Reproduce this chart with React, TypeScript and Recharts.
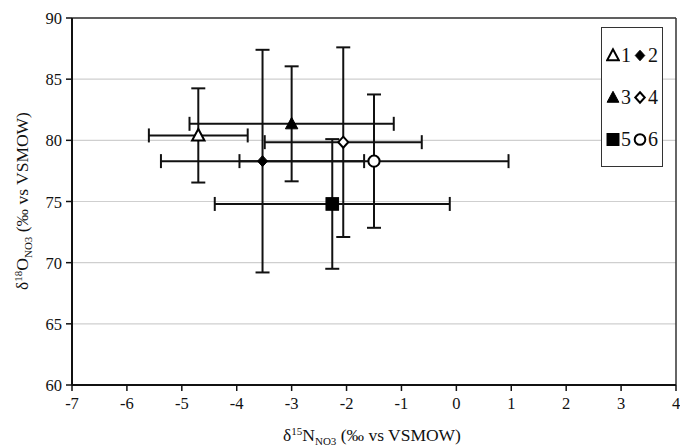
import React from 'react'
import {
  ScatterChart,
  Scatter,
  XAxis,
  YAxis,
  CartesianGrid,
  ErrorBar,
  ReferenceLine,
} from 'recharts'

// Sites (legend labels) and their mean isotope values with 1 SD error bars
const seriesNames = ['1', '2', '3', '4', '5', '6']
const xValues = [-4.7, -3.53, -3.0, -2.06, -2.26, -1.5]
const yValues = [80.4, 78.3, 81.35, 79.85, 74.8, 78.3]
const xErrors = [0.9, 1.85, 1.86, 1.43, 2.14, 2.45]
const yErrors = [3.85, 9.1, 4.7, 7.75, 5.3, 5.45]

const xTicks = [-7, -6, -5, -4, -3, -2, -1, 0, 1, 2, 3, 4]
const yTicks = [60, 65, 70, 75, 80, 85, 90]

// marker style per series
const MARKERS = [
  { kind: 'triangle', filled: false },
  { kind: 'diamond', filled: true },
  { kind: 'triangle', filled: true },
  { kind: 'diamond', filled: false },
  { kind: 'square', filled: true },
  { kind: 'circle', filled: false },
]

const FONT = 'Liberation Serif'

function markerPath(kind: string, cx: number, cy: number, s: number) {
  if (kind === 'triangle') {
    return <polygon points={`${cx},${cy - 6.5 * s} ${cx - 6.2 * s},${cy + 5 * s} ${cx + 6.2 * s},${cy + 5 * s}`} />
  }
  if (kind === 'diamond') {
    return <polygon points={`${cx},${cy - 5.5 * s} ${cx + 5 * s},${cy} ${cx},${cy + 5.5 * s} ${cx - 5 * s},${cy}`} />
  }
  if (kind === 'square') {
    return <rect x={cx - 6.3 * s} y={cy - 6.3 * s} width={12.6 * s} height={12.6 * s} />
  }
  return <circle cx={cx} cy={cy} r={5.6 * s} />
}

function Marker({ cx, cy, kind, filled, scale = 1 }: any) {
  if (cx == null || cy == null) return null
  return (
    <g fill={filled ? '#000' : '#fff'} stroke="#000" strokeWidth={filled ? 1 : 2}>
      {markerPath(kind, cx, cy, scale)}
    </g>
  )
}

function LegendBox() {
  const rows = [0, 2, 4]
  return (
    <div
      style={{
        position: 'absolute',
        left: 601,
        top: 27,
        width: 62,
        height: 140,
        boxSizing: 'border-box',
        border: '1.5px solid #333',
        background: '#fff',
        display: 'flex',
        flexDirection: 'column',
        justifyContent: 'space-around',
        padding: '6px 0',
        fontFamily: FONT,
        fontSize: 20,
        color: '#111',
      }}
    >
      {rows.map((r) => (
        <div key={r} style={{ display: 'flex', alignItems: 'center', paddingLeft: 4 }}>
          {[r, r + 1].map((i) => (
            <span key={i} style={{ display: 'flex', alignItems: 'center', marginRight: 2 }}>
              <svg width={14} height={16}>
                <Marker cx={7} cy={8.5} kind={MARKERS[i].kind} filled={MARKERS[i].filled} scale={0.95} />
              </svg>
              <span style={{ marginLeft: 1, lineHeight: '20px' }}>{seriesNames[i]}</span>
            </span>
          ))}
        </div>
      ))}
    </div>
  )
}

function AxisTick({ x, y, payload, anchor, dx = 0, dy = 0 }: any) {
  return (
    <text x={x + dx} y={y + dy} textAnchor={anchor} fill="#111" fontFamily={FONT} fontSize={16.5}>
      {payload.value}
    </text>
  )
}

export default function App() {
  const data = seriesNames.map((name, i) => [
    { x: xValues[i], y: yValues[i], ex: xErrors[i], ey: yErrors[i] },
  ])

  return (
    <div style={{ position: 'absolute', left: 0, top: 0, width: 680, height: 447, background: '#fff', fontFamily: FONT }}>
      <ScatterChart width={680} height={447} margin={{ top: 18, right: 4, bottom: 0, left: 0 }}>
        <CartesianGrid horizontal vertical={false} stroke="#cfcfcf" strokeWidth={1.2} />
        <XAxis
          type="number"
          dataKey="x"
          domain={[-7, 4]}
          ticks={xTicks}
          interval={0}
          height={62}
          stroke="#111"
          strokeWidth={2}
          tickSize={6}
          tick={<AxisTick anchor="middle" dy={16} />}
          tickLine={{ stroke: '#111', strokeWidth: 1.5 }}
          label={{
            content: () => (
              <text x={372} y={441} textAnchor="middle" fill="#111" fontFamily={FONT} fontSize={17.5}>
                δ<tspan dy={-6} fontSize={11}>15</tspan>
                <tspan dy={6}>N</tspan>
                <tspan dy={4} fontSize={11}>NO3</tspan>
                <tspan dy={-4}> (‰ vs VSMOW)</tspan>
              </text>
            ),
          }}
        />
        <YAxis
          type="number"
          dataKey="y"
          domain={[60, 90]}
          ticks={yTicks}
          interval={0}
          width={72}
          stroke="#111"
          strokeWidth={2}
          tickSize={6}
          tick={<AxisTick anchor="end" dx={-2} dy={6} />}
          tickLine={{ stroke: '#111', strokeWidth: 1.5 }}
          label={{
            content: () => (
              <text
                transform="translate(28,201) rotate(-90)"
                textAnchor="middle"
                fill="#111"
                fontFamily={FONT}
                fontSize={17.5}
              >
                δ<tspan dy={-6} fontSize={11}>18</tspan>
                <tspan dy={6}>O</tspan>
                <tspan dy={4} fontSize={11}>NO3</tspan>
                <tspan dy={-4}> (‰ vs VSMOW)</tspan>
              </text>
            ),
          }}
        />
        <ReferenceLine y={90} stroke="#333" strokeWidth={1.5} />
        <ReferenceLine x={4} stroke="#333" strokeWidth={1.5} />
        {data.map((d, i) => (
          <Scatter
            key={seriesNames[i]}
            name={seriesNames[i]}
            data={d}
            isAnimationActive={false}
            shape={(props: any) => (
              <Marker cx={props.cx} cy={props.cy} kind={MARKERS[i].kind} filled={MARKERS[i].filled} />
            )}
          >
            <ErrorBar dataKey="ex" direction="x" width={7} stroke="#111" strokeWidth={2} isAnimationActive={false} />
            <ErrorBar dataKey="ey" direction="y" width={7} stroke="#111" strokeWidth={2} isAnimationActive={false} />
          </Scatter>
        ))}
      </ScatterChart>
      <LegendBox />
    </div>
  )
}
